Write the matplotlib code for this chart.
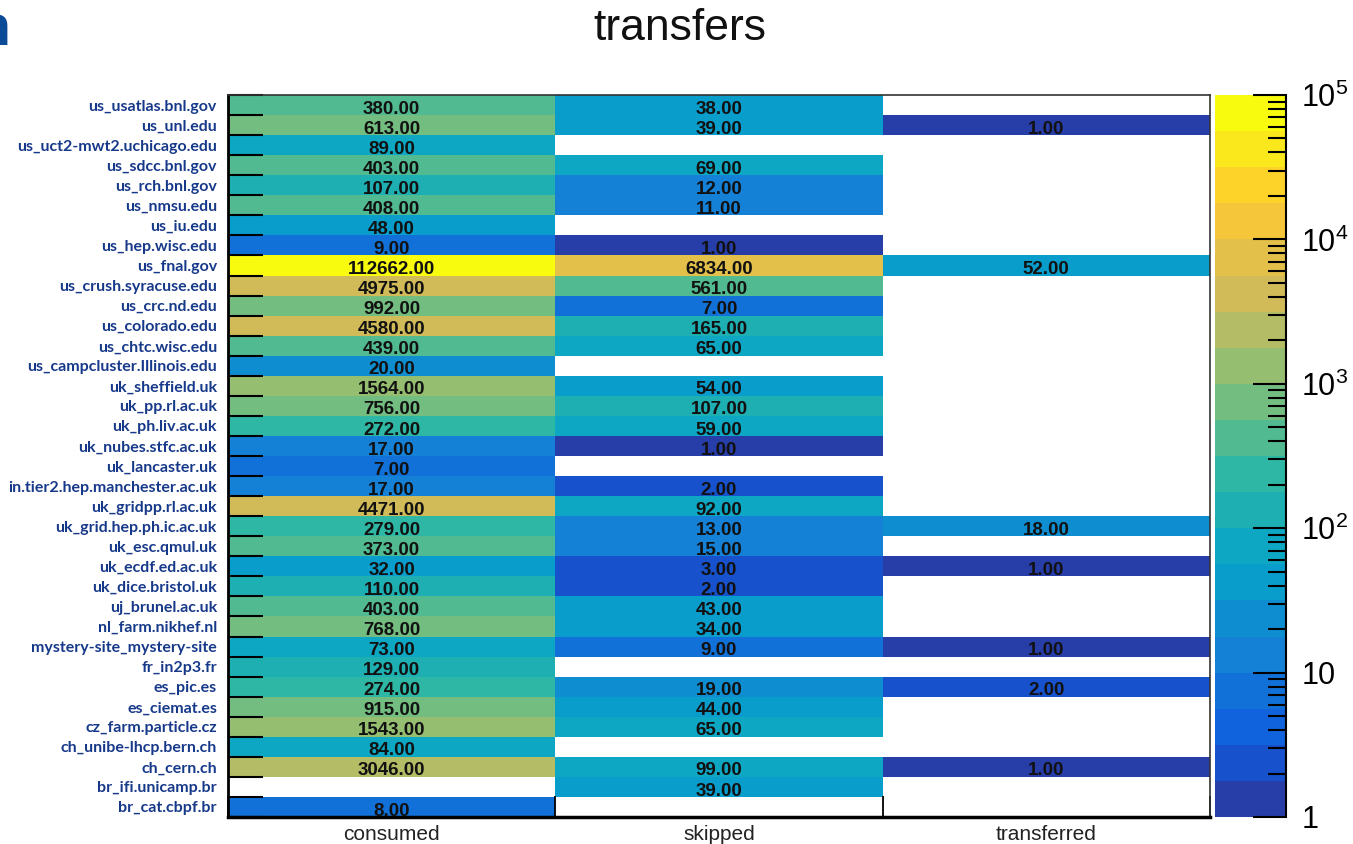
import numpy as np
import matplotlib.pyplot as plt
from matplotlib.colors import LinearSegmentedColormap, ListedColormap, BoundaryNorm
from matplotlib.ticker import FixedLocator, NullFormatter, LogLocator

plt.rcParams['mathtext.fontset'] = 'custom'
plt.rcParams['mathtext.rm'] = 'Liberation Sans'
plt.rcParams['mathtext.it'] = 'Liberation Sans:italic'
plt.rcParams['mathtext.bf'] = 'Liberation Sans:bold'

sites = ["us_usatlas.bnl.gov", "us_unl.edu", "us_uct2-mwt2.uchicago.edu", "us_sdcc.bnl.gov",
         "us_rch.bnl.gov", "us_nmsu.edu", "us_iu.edu", "us_hep.wisc.edu", "us_fnal.gov",
         "us_crush.syracuse.edu", "us_crc.nd.edu", "us_colorado.edu", "us_chtc.wisc.edu",
         "us_campcluster.Illinois.edu", "uk_sheffield.uk", "uk_pp.rl.ac.uk", "uk_ph.liv.ac.uk",
         "uk_nubes.stfc.ac.uk", "uk_lancaster.uk", "in.tier2.hep.manchester.ac.uk",
         "uk_gridpp.rl.ac.uk", "uk_grid.hep.ph.ic.ac.uk", "uk_esc.qmul.uk", "uk_ecdf.ed.ac.uk",
         "uk_dice.bristol.uk", "uj_brunel.ac.uk", "nl_farm.nikhef.nl", "mystery-site_mystery-site",
         "fr_in2p3.fr", "es_pic.es", "es_ciemat.es", "cz_farm.particle.cz",
         "ch_unibe-lhcp.bern.ch", "ch_cern.ch", "br_ifi.unicamp.br", "br_cat.cbpf.br"]
columns = ["consumed", "skipped", "transferred"]

nan = np.nan
consumed = [380, 613, 89, 403, 107, 408, 48, 9, 112662, 4975, 992, 4580, 439, 20, 1564, 756,
            272, 17, 7, 17, 4471, 279, 373, 32, 110, 403, 768, 73, 129, 274, 915, 1543, 84,
            3046, nan, 8]
skipped = [38, 39, nan, 69, 12, 11, nan, 1, 6834, 561, 7, 165, 65, nan, 54, 107, 59, 1, nan,
           2, 92, 13, 15, 3, 2, 43, 34, 9, nan, 19, 44, 65, nan, 99, 39, nan]
transferred = [nan, 1, nan, nan, nan, nan, nan, nan, 52, nan, nan, nan, nan, nan, nan, nan,
               nan, nan, nan, nan, nan, 18, nan, 1, nan, nan, nan, 1, nan, 2, nan, nan, nan,
               1, nan, nan]

# ROOT kBird palette, 20 log contours from 1 to 1e5
stops = [0.0, 0.125, 0.25, 0.375, 0.5, 0.625, 0.75, 0.875, 1.0]
red = [0.2082, 0.0592, 0.0780, 0.0232, 0.1802, 0.5301, 0.8186, 0.9956, 0.9764]
green = [0.1664, 0.3599, 0.5041, 0.6419, 0.7178, 0.7492, 0.7328, 0.7862, 0.9832]
blue = [0.5293, 0.8684, 0.8385, 0.7914, 0.6425, 0.4662, 0.3499, 0.1968, 0.0539]
bird = LinearSegmentedColormap.from_list("bird", list(zip(stops, zip(red, green, blue))), N=255)
ncont = 20
cmap = ListedColormap([bird((i + 0.99) / ncont) for i in range(ncont)])
levels = 10 ** (np.arange(ncont + 1) * 5.0 / ncont)
norm = BoundaryNorm(levels, ncont, clip=True)

data = np.array([consumed, skipped, transferred], dtype=float).T

W, H = 1353, 844
fig = plt.figure(figsize=(W / 100, H / 100), dpi=100)
ax = fig.add_axes([228 / W, 1 - 817 / H, (1210 - 228) / W, (817 - 95) / H])
ax.pcolormesh(np.arange(4), np.arange(len(sites) + 1), np.ma.masked_invalid(data),
              cmap=cmap, norm=norm, edgecolors='none')
ax.set_xlim(0, 3)
ax.set_ylim(len(sites), 0)

for i in range(len(sites)):
    for j in range(3):
        v = data[i, j]
        if not np.isnan(v):
            ax.text(j + 0.5, i + 0.93, "%.2f" % v, ha='center', va='baseline',
                    fontsize=13.5, fontweight='bold', family='Liberation Sans', color='#111111')

# y axis: ticks at bin edges, labels at bin centres
ax.yaxis.set_major_locator(FixedLocator(np.arange(len(sites) + 1)))
ax.yaxis.set_major_formatter(NullFormatter())
ax.set_yticks(np.arange(len(sites)) + 0.5, minor=True)
ax.set_yticklabels(sites, minor=True)
ax.tick_params(axis='y', which='major', direction='in', length=25, width=1.5, color='black')
ax.tick_params(axis='y', which='minor', length=0, pad=8, labelsize=11.5, labelcolor='#17398a')
for lab in ax.get_yticklabels(minor=True):
    lab.set_fontfamily('Lato')
    lab.set_fontweight('bold')

ax.xaxis.set_major_locator(FixedLocator([0, 1, 2, 3]))
ax.xaxis.set_major_formatter(NullFormatter())
ax.set_xticks([0.5, 1.5, 2.5], minor=True)
ax.set_xticklabels(columns, minor=True)
ax.tick_params(axis='x', which='major', direction='in', length=15, width=1.3, color='black')
ax.tick_params(axis='x', which='minor', length=0, pad=6, labelsize=15, labelcolor='#222222')
for lab in ax.get_xticklabels(minor=True):
    lab.set_fontfamily('Liberation Sans')

ax.spines['left'].set_linewidth(2)
ax.spines['bottom'].set_linewidth(2.5)
for s in ['top', 'right']:
    ax.spines[s].set_linewidth(1.2)
    ax.spines[s].set_color('#333333')

# colour palette axis
cax = fig.add_axes([1215 / W, 1 - 817 / H, (1286 - 1215) / W, (817 - 95) / H])
mids = np.sqrt(levels[:-1] * levels[1:])
cax.pcolormesh([0, 1], levels, mids[:, None], cmap=cmap, norm=norm, edgecolors='none')
cax.set_yscale('log')
cax.set_ylim(1, 1e5)
cax.set_xlim(0, 1)
cax.set_xticks([])
cax.yaxis.tick_right()
cax.yaxis.set_major_locator(FixedLocator([1, 10, 100, 1e3, 1e4, 1e5]))
cax.yaxis.set_minor_locator(LogLocator(subs=np.arange(2, 10)))
cax.yaxis.set_minor_formatter(NullFormatter())
cax.set_yticklabels(['1', '10', '$10^{2}$', '$10^{3}$', '$10^{4}$', '$10^{5}$'])
cax.tick_params(axis='y', which='major', direction='in', length=24, width=1.5, pad=11,
                labelsize=22)
cax.tick_params(axis='y', which='minor', direction='in', length=13, width=1.5)
for lab in cax.get_yticklabels():
    lab.set_fontfamily('Liberation Sans')
for s in ['left', 'top', 'bottom']:
    cax.spines[s].set_visible(False)
cax.spines['right'].set_linewidth(1.5)

fig.text(680 / W, 1 - 28 / H, "transfers", ha='center', va='center', fontsize=32,
         family='Liberation Sans', color='#111111')
# leftover of slide heading at the top-left edge
fig.text(11 / W, 1 - 45 / H, "n", ha='right', va='baseline', fontsize=40, fontweight='bold',
         family='Open Sans', color='#0a4a96')

fig.savefig("out.png", dpi=100)
